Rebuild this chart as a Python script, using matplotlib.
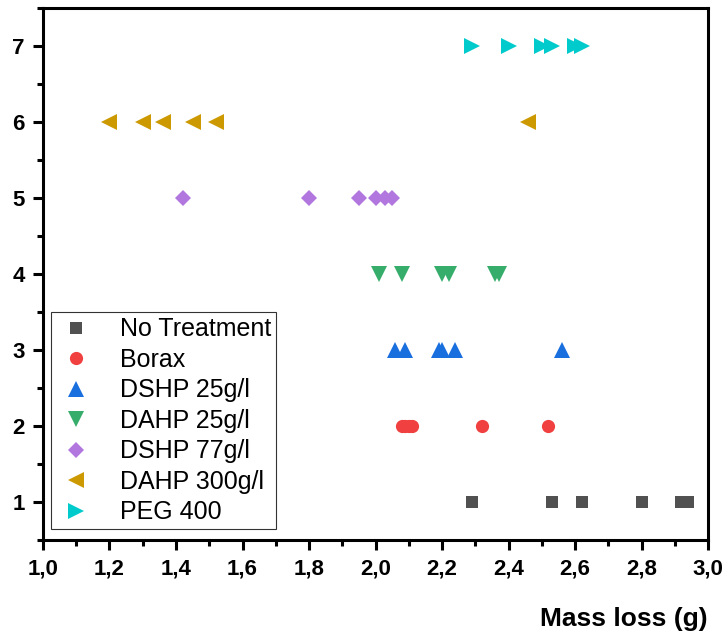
import matplotlib
matplotlib.use("Agg")
import matplotlib.pyplot as plt
from matplotlib.ticker import MultipleLocator, FuncFormatter

# datos (Mass loss en g, fila = tratamiento)
no_treatment = [2.29, 2.53, 2.62, 2.80, 2.92, 2.94]
borax = [2.08, 2.09, 2.10, 2.11, 2.32, 2.52]
dshp_25 = [2.06, 2.09, 2.19, 2.20, 2.24, 2.56]
dahp_25 = [2.01, 2.08, 2.20, 2.22, 2.36, 2.37]
dshp_77 = [1.42, 1.80, 1.95, 2.00, 2.03, 2.05]
dahp_300 = [1.20, 1.30, 1.36, 1.45, 1.52, 2.46]
peg_400 = [2.29, 2.40, 2.50, 2.53, 2.60, 2.62]

series = [
    ("No Treatment", no_treatment, 1, "s", "#515151", 8.5),
    ("Borax", borax, 2, "o", "#F14040", 9.5),
    ("DSHP 25g/l", dshp_25, 3, "^", "#1A6FDF", 11),
    ("DAHP 25g/l", dahp_25, 4, "v", "#37AD6B", 11),
    ("DSHP 77g/l", dshp_77, 5, "D", "#B177DE", 8),
    ("DAHP 300g/l", dahp_300, 6, "<", "#CC9900", 11),
    ("PEG 400", peg_400, 7, ">", "#00CBCC", 11),
]

plt.rcParams['font.family'] = ['Liberation Sans', 'DejaVu Sans']

fig = plt.figure(figsize=(7.25, 6.34), dpi=100)
ax = fig.add_axes([0.0593, 0.1483, 0.9173, 0.8391])

for nombre, valores, fila, marcador, color, ms in series:
    ax.plot(valores, [fila] * len(valores), linestyle="none", marker=marcador,
            color=color, markersize=ms, markeredgewidth=0, label=nombre)

ax.set_xlim(1.0, 3.0)
ax.set_ylim(0.5, 7.5)
ax.xaxis.set_major_locator(MultipleLocator(0.2))
ax.xaxis.set_minor_locator(MultipleLocator(0.1))
ax.yaxis.set_major_locator(MultipleLocator(1))
ax.yaxis.set_minor_locator(MultipleLocator(0.5))
ax.xaxis.set_major_formatter(FuncFormatter(lambda v, p: f"{v:.1f}".replace(".", ",")))

for s in ax.spines.values():
    s.set_linewidth(2.2)
ax.tick_params(which="major", direction="out", length=7, width=2.2,
               labelsize=16, pad=6)
ax.tick_params(which="minor", direction="out", length=4, width=2.2)
for lab in ax.get_xticklabels() + ax.get_yticklabels():
    lab.set_fontweight("bold")

ax.set_xlabel("Mass loss (g)", loc="right", fontsize=19, fontweight="bold",
              labelpad=20)

leg = ax.legend(loc="lower left", bbox_to_anchor=(0.012, 0.02), borderaxespad=0,
                fontsize=18, frameon=True, fancybox=False, edgecolor="black",
                labelspacing=0.26, handletextpad=0.95, borderpad=0.2,
                handlelength=1.6)
leg.get_frame().set_linewidth(0.8)

fig.savefig("out.png", dpi=100)
